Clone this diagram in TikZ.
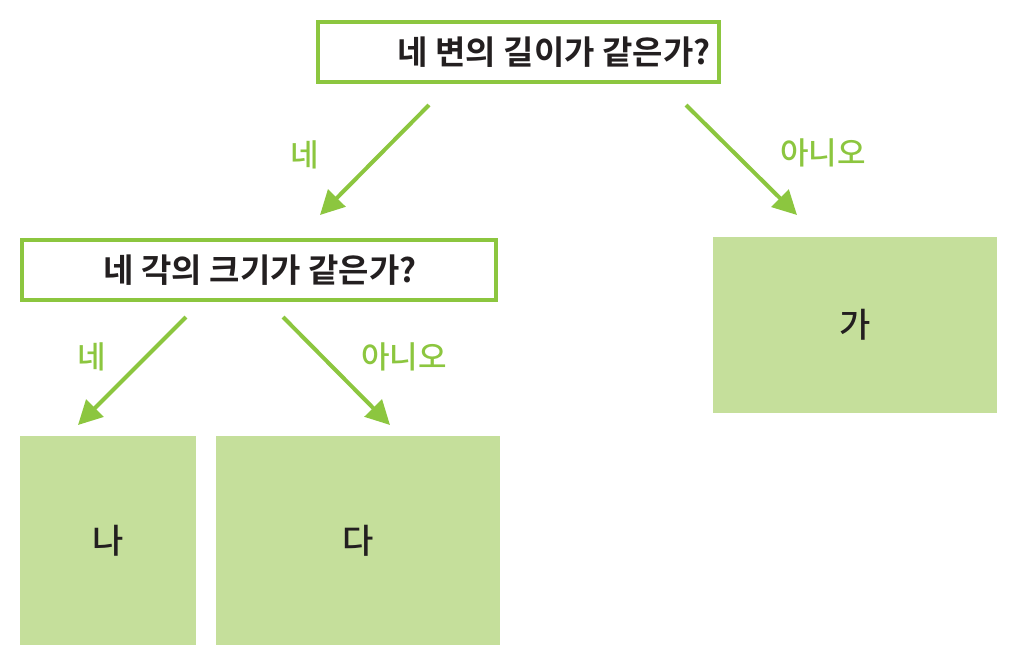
\documentclass[tikz,border=0pt]{standalone}
\usepackage{fontspec}
\newfontfamily\kr{Noto Sans CJK KR Medium}
\newfontfamily\krb{Noto Sans CJK KR Bold}
\usetikzlibrary{arrows.meta}
\definecolor{lgreen}{HTML}{8CC63F}
\definecolor{pgreen}{HTML}{C5DF9B}
\definecolor{ink}{HTML}{231F20}
\tikzset{
  x=1pt, y=-1pt,
  qbox/.style={draw=lgreen, line width=4pt, fill=white, inner sep=0pt},
  ansbox/.style={fill=pgreen, draw=none, inner sep=0pt, font=\kr\fontsize{34}{38}\selectfont, text=ink},
  qtext/.style={font=\krb\fontsize{33}{38}\selectfont, text=ink, inner sep=0pt},
  elabel/.style={font=\kr\fontsize{31}{34}\selectfont, text=lgreen, inner sep=0pt},
  flow/.style={draw=lgreen, line width=4pt, -{Triangle[length=24pt,width=24pt]}}
}
\begin{document}
\begin{tikzpicture}
\useasboundingbox (0,0) rectangle (1017,665);
% question boxes
\node[qbox, minimum width=401pt, minimum height=60pt] (q1) at (518.5,52) {};
\node[qtext] (q1t) at (554,52) {네 변의 길이가 같은가?};
\node[qbox, minimum width=474pt, minimum height=60pt] (q2) at (259,270) {};
\node[qtext] (q2t) at (260,270) {네 각의 크기가 같은가?};
% answer boxes
\node[ansbox, minimum width=284pt, minimum height=176pt] (ga) at (855,325) {가};
\node[ansbox, minimum width=176pt, minimum height=209pt] (na) at (108,540.5) {나};
\node[ansbox, minimum width=284pt, minimum height=209pt] (da) at (358,540.5) {다};
% connector ends
\coordinate (a1s) at (429,105); \coordinate (a1e) at (320,215);
\coordinate (a2s) at (686,105); \coordinate (a2e) at (797,215);
\coordinate (a3s) at (186,317); \coordinate (a3e) at (78,425);
\coordinate (a4s) at (283,317); \coordinate (a4e) at (390,425);
\draw[flow] (a1s) -- (a1e);
\draw[flow] (a2s) -- (a2e);
\draw[flow] (a3s) -- (a3e);
\draw[flow] (a4s) -- (a4e);
% labels
\node[elabel] (l1) at (305,155) {네};
\node[elabel] (l2) at (823,153) {아니오};
\node[elabel] (l3) at (92,357) {네};
\node[elabel] (l4) at (404,357) {아니오};
\end{tikzpicture}
\end{document}
